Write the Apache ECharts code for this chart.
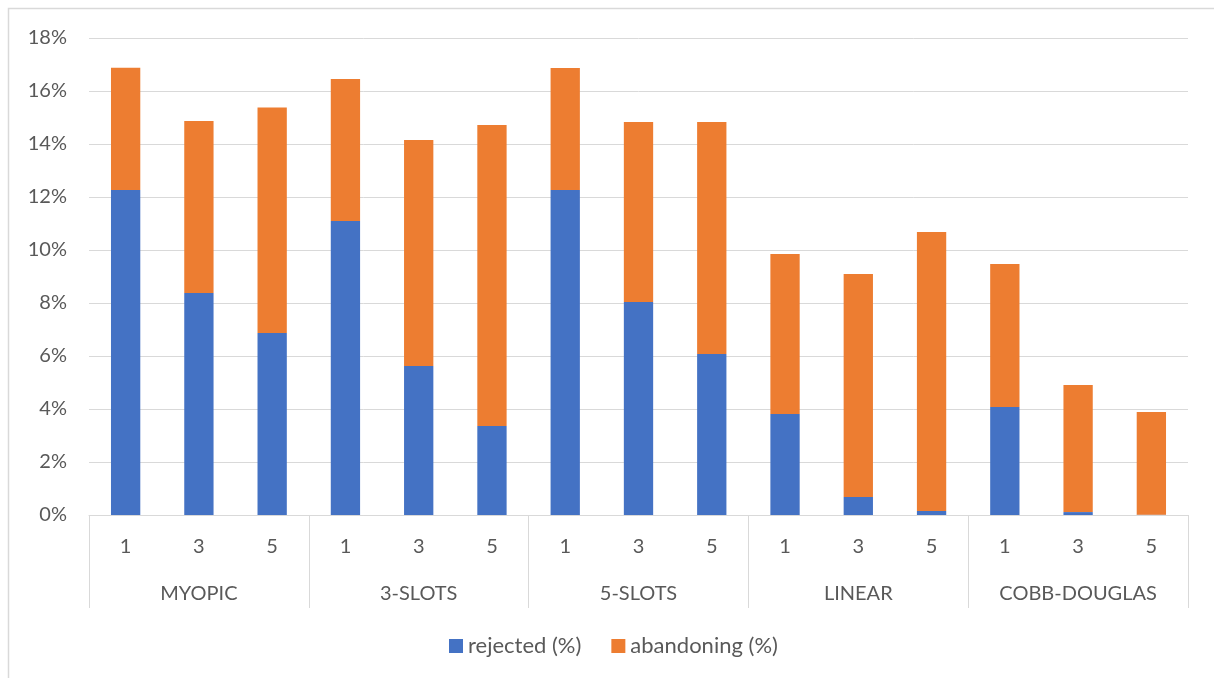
<!DOCTYPE html>
<html>
<head>
<meta charset="utf-8">
<script src="https://cdn.jsdelivr.net/npm/echarts@6/dist/echarts.min.js"></script>
<style>
  html, body { margin: 0; padding: 0; background: #fff; }
  #chart { width: 1214px; height: 678px; }
</style>
</head>
<body>
<div id="chart"></div>
<script>
// Sub-categories (number of slots) and the model groups they belong to
const categories = ['1', '3', '5', '1', '3', '5', '1', '3', '5', '1', '3', '5', '1', '3', '5'];
const groups = ['MYOPIC', '3-SLOTS', '5-SLOTS', 'LINEAR', 'COBB-DOUGLAS'];

// Shares in percent
const rejected = [12.26, 8.38, 6.87, 11.09, 5.62, 3.36, 12.26, 8.04, 6.08, 3.81, 0.68, 0.15, 4.08, 0.11, 0.01];
const abandoning = [4.62, 6.49, 8.51, 5.36, 8.53, 11.36, 4.61, 6.79, 8.75, 6.04, 8.41, 10.53, 5.39, 4.80, 3.88];

const yTicks = { min: 0, max: 18, interval: 2 };

const textColor = '#595959';
const lineColor = '#D9D9D9';
const font = 'Lato, "Open Sans", sans-serif';

const chart = echarts.init(document.getElementById('chart'));
chart.setOption({
  animation: false,
  textStyle: { fontFamily: font },
  // chart-area frame (open towards right and bottom edges of the page)
  graphic: [{
    type: 'rect',
    shape: { x: 8.5, y: 8.5, width: 1220, height: 690 },
    style: { fill: 'none', stroke: lineColor, lineWidth: 1.5 },
    silent: true
  }],
  grid: { left: 89, right: 26, top: 38, bottom: 163 },
  legend: {
    top: 635,
    left: 449,
    padding: 0,
    icon: 'rect',
    itemWidth: 14,
    itemHeight: 14,
    itemGap: 30,
    textStyle: { fontSize: 22, color: textColor, fontFamily: font },
    data: ['rejected (%)', 'abandoning (%)']
  },
  xAxis: [{
    type: 'category',
    data: categories,
    position: 'bottom',
    axisLine: { lineStyle: { color: lineColor, width: 1 } },
    axisTick: { show: false },
    axisLabel: { fontSize: 20, color: textColor, margin: 22, interval: 0, fontFamily: font }
  }, {
    type: 'category',
    data: groups,
    position: 'bottom',
    axisLine: { show: false },
    axisTick: { show: true, length: 93, interval: 0, lineStyle: { color: lineColor, width: 1 } },
    axisLabel: { fontSize: 20, color: textColor, margin: 69, interval: 0, fontFamily: font },
    splitLine: { show: false }
  }],
  yAxis: {
    type: 'value',
    min: yTicks.min,
    max: yTicks.max,
    interval: yTicks.interval,
    axisLine: { show: false },
    axisTick: { show: false },
    axisLabel: { fontSize: 20, color: textColor, margin: 22, formatter: '{value}%', fontFamily: font },
    splitLine: { lineStyle: { color: lineColor, width: 1 } }
  },
  series: [{
    name: 'rejected (%)',
    type: 'bar',
    stack: 'total',
    barCategoryGap: '60%',
    itemStyle: { color: '#4472C4' },
    data: rejected
  }, {
    name: 'abandoning (%)',
    type: 'bar',
    stack: 'total',
    barCategoryGap: '60%',
    itemStyle: { color: '#ED7D31' },
    data: abandoning
  }]
});
</script>
</body>
</html>
